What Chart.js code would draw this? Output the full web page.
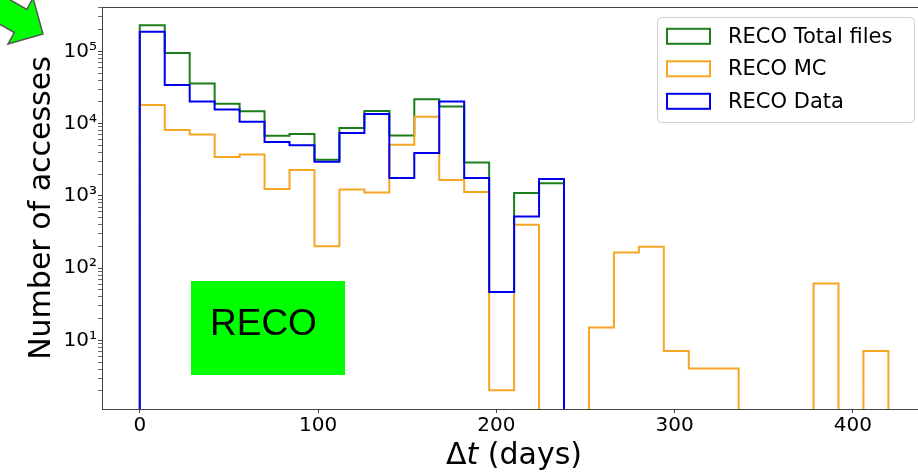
<!DOCTYPE html>
<html>
<head>
<meta charset="utf-8">
<script src="https://cdn.jsdelivr.net/npm/chart.js@4.4.0/dist/chart.umd.min.js"></script>
<style>
  html, body { margin: 0; padding: 0; background: #fff; overflow: hidden; }
  #wrap { width: 918px; height: 472px; }
</style>
</head>
<body>
<div id="wrap"><canvas id="chart" width="918" height="472"></canvas></div>
<script>
// bin edges in days (2-week bins)
const binEdges = [0, 14, 28, 42, 56, 70, 84, 98, 112, 126, 140, 154, 168, 182, 196,
                  210, 224, 238, 252, 266, 280, 294, 308, 322, 336, 350, 364, 378, 392, 406, 420];

// counts per bin
const totalCounts = [230000, 95000, 36000, 18900, 14800, 6800, 7200, 3160, 8700, 15000,
                     6870, 21700, 17300, 2890, 46.5, 1100, 1500, 0, 0, 0,
                     0, 0, 0, 0, 0, 0, 0, 0, 0, 0];
const mcCounts    = [18100, 8170, 7100, 3450, 3750, 1245, 2280, 200, 1230, 1110,
                     5120, 12500, 1660, 1130, 2.03, 398, 0, 0, 15.1, 165,
                     198, 7.1, 4.06, 4.06, 0, 0, 0, 61, 0, 7.1];
const dataCounts  = [187000, 34300, 20300, 15700, 10600, 5570, 5010, 2970, 7420, 13600,
                     1770, 3930, 20300, 1770, 46.5, 520, 1714, 0, 0, 0,
                     0, 0, 0, 0, 0, 0, 0, 0, 0, 0];

const seriesNames  = ['RECO Total files', 'RECO MC', 'RECO Data'];
const seriesColors = ['#1a7f1a', '#f5a623', '#0000ee'];

const xTickValues  = [0, 100, 200, 300, 400];
const yMajorTicks  = [10, 100, 1000, 10000, 100000];
const yMinorFactor = [2, 3, 4, 5, 6, 7, 8, 9];

const X_MIN = -21.2, X_MAX = 436.6;
const Y_MIN = 1.12, Y_MAX = 412000;
const FLOOR = 0.5;   // empty bins fall below the axis

// outline of a step histogram
function stepPoints(counts) {
    const pts = [{ x: binEdges[0], y: FLOOR }];
    counts.forEach((c, i) => {
        const v = c > 0 ? c : FLOOR;
        pts.push({ x: binEdges[i], y: v });
        pts.push({ x: binEdges[i + 1], y: v });
    });
    pts.push({ x: binEdges[binEdges.length - 1], y: FLOOR });
    return pts;
}

const yTickValues = [];
[1, 10, 100, 1000, 10000, 100000].forEach(d => {
    [1].concat(yMinorFactor).forEach(f => {
        const v = f * d;
        if (v >= Y_MIN && v <= Y_MAX) yTickValues.push(v);
    });
});

const SUP = { '0': '\u2070', '1': '\u00b9', '2': '\u00b2', '3': '\u00b3', '4': '\u2074', '5': '\u2075' };

Chart.defaults.font.family = "'DejaVu Sans', sans-serif";
Chart.defaults.color = '#000';

const decor = {
    id: 'decor',
    afterDraw(chart) {
        const ctx = chart.ctx;
        const a = chart.chartArea;
        ctx.save();

        // top spine
        ctx.strokeStyle = '#444';
        ctx.lineWidth = 1;
        ctx.beginPath();
        ctx.moveTo(a.left, a.top + 0.5);
        ctx.lineTo(a.right, a.top + 0.5);
        ctx.stroke();

        // RECO tag
        ctx.fillStyle = '#00ff00';
        ctx.fillRect(191, 281, 154, 94);
        ctx.fillStyle = '#000';
        ctx.font = "37px 'Liberation Sans', Arial, sans-serif";
        ctx.textAlign = 'left';
        ctx.textBaseline = 'alphabetic';
        ctx.fillText('RECO', 210, 335);

        // legend
        const lx = 657.5, ly = 17.5, lw = 257, lh = 105;
        ctx.beginPath();
        ctx.roundRect(lx, ly, lw, lh, 4);
        ctx.fillStyle = 'rgba(255,255,255,0.8)';
        ctx.fill();
        ctx.strokeStyle = '#d0d0d0';
        ctx.stroke();
        ctx.font = "21px 'DejaVu Sans', sans-serif";
        ctx.textBaseline = 'middle';
        seriesNames.forEach((name, i) => {
            const cy = 36.3 + i * 32.5;
            ctx.strokeStyle = seriesColors[i];
            ctx.lineWidth = 2;
            ctx.strokeRect(667, cy - 7.5, 43, 15);
            ctx.fillStyle = '#000';
            ctx.fillText(name, 728, cy + 1);
        });

        // y title
        ctx.save();
        ctx.translate(50, (a.top + a.bottom) / 2);
        ctx.rotate(-Math.PI / 2);
        ctx.font = "30px 'DejaVu Sans', sans-serif";
        ctx.textAlign = 'center';
        ctx.textBaseline = 'alphabetic';
        ctx.fillStyle = '#000';
        ctx.fillText('Number of accesses', 0, 0);
        ctx.restore();

        // x title: Δt (days), with italic t
        const parts = [
            ['\u0394', "30px 'DejaVu Sans', sans-serif"],
            ['t', "oblique 30px 'DejaVu Sans', sans-serif"],
            [' (days)', "30px 'DejaVu Sans', sans-serif"]
        ];
        let total = 0;
        parts.forEach(p => { ctx.font = p[1]; total += ctx.measureText(p[0]).width; });
        let px = 514 - total / 2;
        ctx.textAlign = 'left';
        ctx.textBaseline = 'alphabetic';
        ctx.fillStyle = '#000';
        parts.forEach(p => {
            ctx.font = p[1];
            ctx.fillText(p[0], px, 464);
            px += ctx.measureText(p[0]).width;
        });

        // arrow in the corner
        ctx.beginPath();
        ctx.moveTo(43, 34);
        ctx.lineTo(33, -2);
        ctx.lineTo(26.8, 9.5);
        ctx.lineTo(-25, -20.5);
        ctx.lineTo(-37.8, 2.5);
        ctx.lineTo(14.3, 32.5);
        ctx.lineTo(8, 44);
        ctx.closePath();
        ctx.fillStyle = '#00ff00';
        ctx.fill();
        ctx.strokeStyle = '#555';
        ctx.lineWidth = 1.5;
        ctx.stroke();

        ctx.restore();
    }
};

const series = [totalCounts, mcCounts, dataCounts];
const datasets = series.map((counts, i) => ({
    label: seriesNames[i],
    data: stepPoints(counts),
    borderColor: seriesColors[i],
    borderWidth: 2,
    pointRadius: 0,
    fill: false,
    tension: 0,
    borderJoinStyle: 'miter',
    order: 3 - i
}));

new Chart(document.getElementById('chart'), {
    type: 'line',
    data: { datasets },
    options: {
        responsive: false,
        animation: false,
        events: [],
        layout: { padding: { top: 7, right: 0, left: 0, bottom: 0 } },
        plugins: { legend: { display: false }, tooltip: { enabled: false } },
        scales: {
            x: {
                type: 'linear',
                min: X_MIN,
                max: X_MAX,
                afterBuildTicks: axis => { axis.ticks = xTickValues.map(v => ({ value: v })); },
                afterFit: axis => { axis.height = 63; axis.paddingLeft = 0; axis.paddingRight = 0; },
                ticks: { font: { size: 20 }, color: '#000', padding: 1, maxRotation: 0 },
                grid: { drawOnChartArea: false, drawTicks: true, tickLength: 4, color: '#444' },
                border: { color: '#444', width: 1 }
            },
            y: {
                type: 'logarithmic',
                min: Y_MIN,
                max: Y_MAX,
                afterBuildTicks: axis => {
                    axis.ticks = yTickValues.map(v => ({ value: v, major: yMajorTicks.includes(v) }));
                },
                afterFit: axis => { axis.width = 102; axis.paddingTop = 0; axis.paddingBottom = 0; },
                ticks: {
                    font: { size: 20 },
                    color: '#000',
                    padding: 1,
                    autoSkip: false,
                    callback: v => {
                        if (!yMajorTicks.includes(v)) return '';
                        const e = String(Math.round(Math.log10(v)));
                        return '10' + e.split('').map(c => SUP[c]).join('');
                    }
                },
                grid: {
                    drawOnChartArea: false,
                    drawTicks: true,
                    tickLength: 4,
                    color: '#444',
                    tickWidth: c => (c.tick && yMajorTicks.includes(c.tick.value)) ? 1 : 0.8
                },
                border: { color: '#444', width: 1 }
            }
        }
    },
    plugins: [decor]
});
</script>
</body>
</html>
